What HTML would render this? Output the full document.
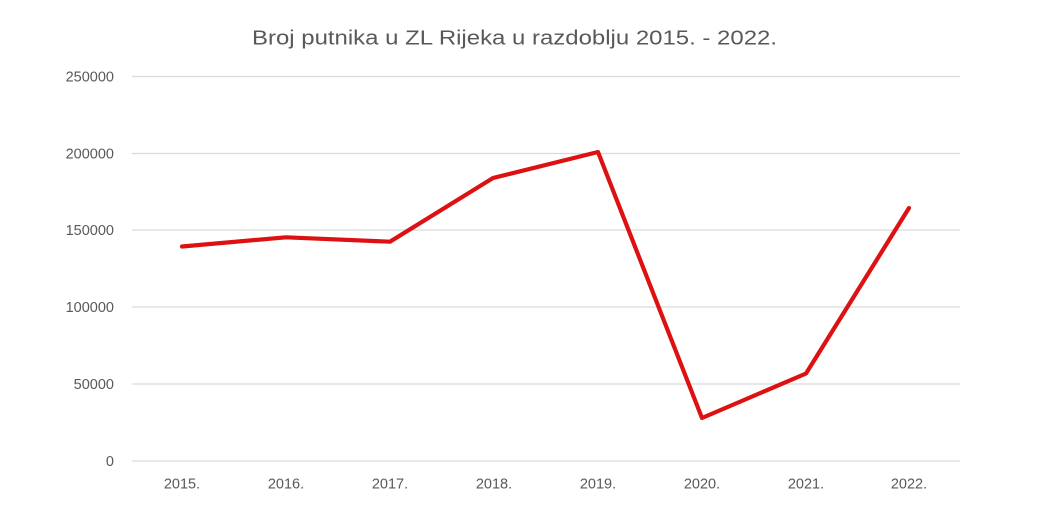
<!DOCTYPE html>
<html>
<head>
<meta charset="utf-8">
<style>
  html, body { margin: 0; padding: 0; background: #ffffff; }
  svg { display: block; }
  text { font-family: "Liberation Sans", Arial, sans-serif; fill: #595959; }
</style>
</head>
<body>
<svg width="1050" height="515" viewBox="0 0 1050 515" xmlns="http://www.w3.org/2000/svg">
  <rect width="1050" height="515" fill="#ffffff"/>
  <text x="252" y="44.5" font-size="20" textLength="525" lengthAdjust="spacingAndGlyphs">Broj putnika u ZL Rijeka u razdoblju 2015. - 2022.</text>

  <g stroke="#d9d9d9" stroke-width="1.3">
    <line x1="132" y1="76.5" x2="960" y2="76.5"/>
    <line x1="132" y1="153.5" x2="960" y2="153.5"/>
    <line x1="132" y1="230" x2="960" y2="230"/>
    <line x1="132" y1="307" x2="960" y2="307"/>
    <line x1="132" y1="384" x2="960" y2="384"/>
    <line x1="132" y1="461" x2="960" y2="461"/>
  </g>

  <g font-size="14.5" text-anchor="end">
    <text x="114" y="81.5">250000</text>
    <text x="114" y="158.5">200000</text>
    <text x="114" y="235">150000</text>
    <text x="114" y="312">100000</text>
    <text x="114" y="389">50000</text>
    <text x="114" y="466">0</text>
  </g>

  <g font-size="14.5" text-anchor="middle">
    <text x="182" y="488.5">2015.</text>
    <text x="286" y="488.5">2016.</text>
    <text x="390" y="488.5">2017.</text>
    <text x="494" y="488.5">2018.</text>
    <text x="598" y="488.5">2019.</text>
    <text x="702" y="488.5">2020.</text>
    <text x="806" y="488.5">2021.</text>
    <text x="909" y="488.5">2022.</text>
  </g>

  <polyline fill="none" stroke="#dd1111" stroke-width="4.2" stroke-linejoin="round" stroke-linecap="round"
    points="182,246.5 286,237.3 390,241.7 493,178 598,152 702,418 806,373.5 909,208"/>
</svg>
</body>
</html>
